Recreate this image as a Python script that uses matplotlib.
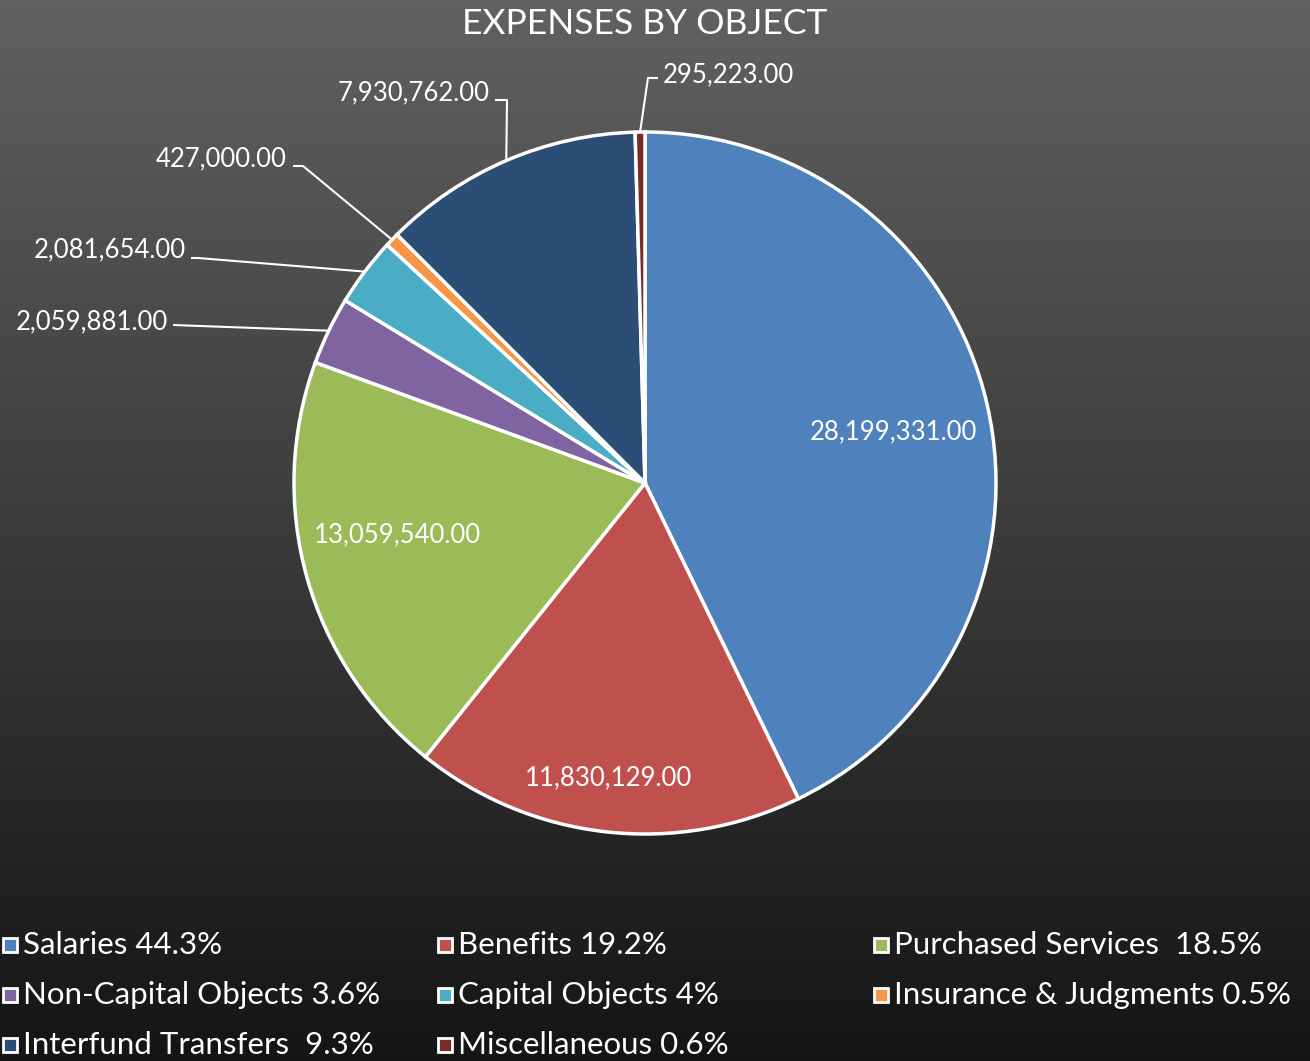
import numpy as np
import matplotlib.pyplot as plt
from matplotlib.patches import Rectangle

plt.rcParams['font.family'] = ['Lato', 'DejaVu Sans']

categories = ['Salaries', 'Benefits', 'Purchased Services', 'Non-Capital Objects',
              'Capital Objects', 'Insurance & Judgments', 'Interfund Transfers', 'Miscellaneous']
values = [28199331, 11830129, 13059540, 2059881, 2081654, 427000, 7930762, 295223]
legend_labels = ['Salaries 44.3%', 'Benefits 19.2%', 'Purchased Services  18.5%',
                 'Non-Capital Objects 3.6%', 'Capital Objects 4%', 'Insurance & Judgments 0.5%',
                 'Interfund Transfers  9.3%', 'Miscellaneous 0.6%']
colors = ['#4F81BD', '#C0504D', '#9BBB59', '#8064A2', '#4BACC6', '#F79646', '#2C4D75', '#772C2A']

W, H = 1310, 1061
fig = plt.figure(figsize=(W / 100, H / 100), dpi=100)

# gradient background
bg = fig.add_axes([0, 0, 1, 1])
grad = np.linspace(0, 1, 256).reshape(-1, 1)
top = np.array([0x61, 0x61, 0x61]) / 255
bot = np.array([0x15, 0x15, 0x15]) / 255
img = top + (bot - top) * grad[..., None]
bg.imshow(img, aspect='auto', extent=[0, 1, 0, 1])
bg.axis('off')

# main axes in pixel coords, y downwards
ax = fig.add_axes([0, 0, 1, 1], facecolor='none')
ax.set_aspect('equal')

cx, cy, R = 645, 483, 351
# y is inverted, so counterclock=True draws clockwise on screen, -90 is the top
wedges, _ = ax.pie(values, colors=colors, startangle=-90, counterclock=True,
                   center=(cx, cy), radius=R, frame=True,
                   wedgeprops=dict(edgecolor='white', linewidth=2.5))
ax.set_xlim(0, W)
ax.set_ylim(H, 0)
ax.axis('off')

def fmt(v):
    return '{:,.2f}'.format(v)

def mid_point(w, frac):
    a = np.deg2rad((w.theta1 + w.theta2) / 2)
    return cx + frac * R * np.cos(a), cy + frac * R * np.sin(a)

# inside labels
inside = [(0, (893, 432)), (1, (608, 778)), (2, (397, 535))]
for i, (x, y) in inside:
    ax.text(x, y, fmt(values[i]), color='white', fontsize=18.5, ha='center', va='center')

# outside labels with leader lines: (index, text anchor, ha, elbow points)
outside = [
    (3, (168, 322), 'right', [(173, 325)]),
    (4, (186, 250), 'right', [(191, 258), (198, 258)]),
    (5, (287, 159), 'right', [(293, 166), (303, 166)]),
    (6, (490, 93), 'right', [(495, 100), (507, 100)]),
    (7, (663, 75), 'left', [(658, 78), (648, 78)]),
]
for i, (tx, ty), ha, elbow in outside:
    ex, ey = mid_point(wedges[i], 1.0)
    pts = elbow + [(ex, ey)]
    ax.plot([p[0] for p in pts], [p[1] for p in pts], color='white', lw=1.5,
            solid_capstyle='butt', zorder=1)
    ax.text(tx, ty, fmt(values[i]), color='white', fontsize=18.5, ha=ha, va='center')

ax.text(645, 24, 'EXPENSES BY OBJECT', color='white', fontsize=25.5, ha='center', va='center')

# legend, row-major in 3 columns
col_x = [3, 438, 874]
row_y = [945, 995, 1045]
for k, lab in enumerate(legend_labels):
    r, c = divmod(k, 3)
    x, y = col_x[c], row_y[r]
    ax.add_patch(Rectangle((x, y - 7), 14, 14, facecolor=colors[k], edgecolor='white',
                           linewidth=2, zorder=3))
    ax.text(x + 20, y, lab, color='white', fontsize=22.5, ha='left', va='center')

fig.savefig('out.png', dpi=100)
